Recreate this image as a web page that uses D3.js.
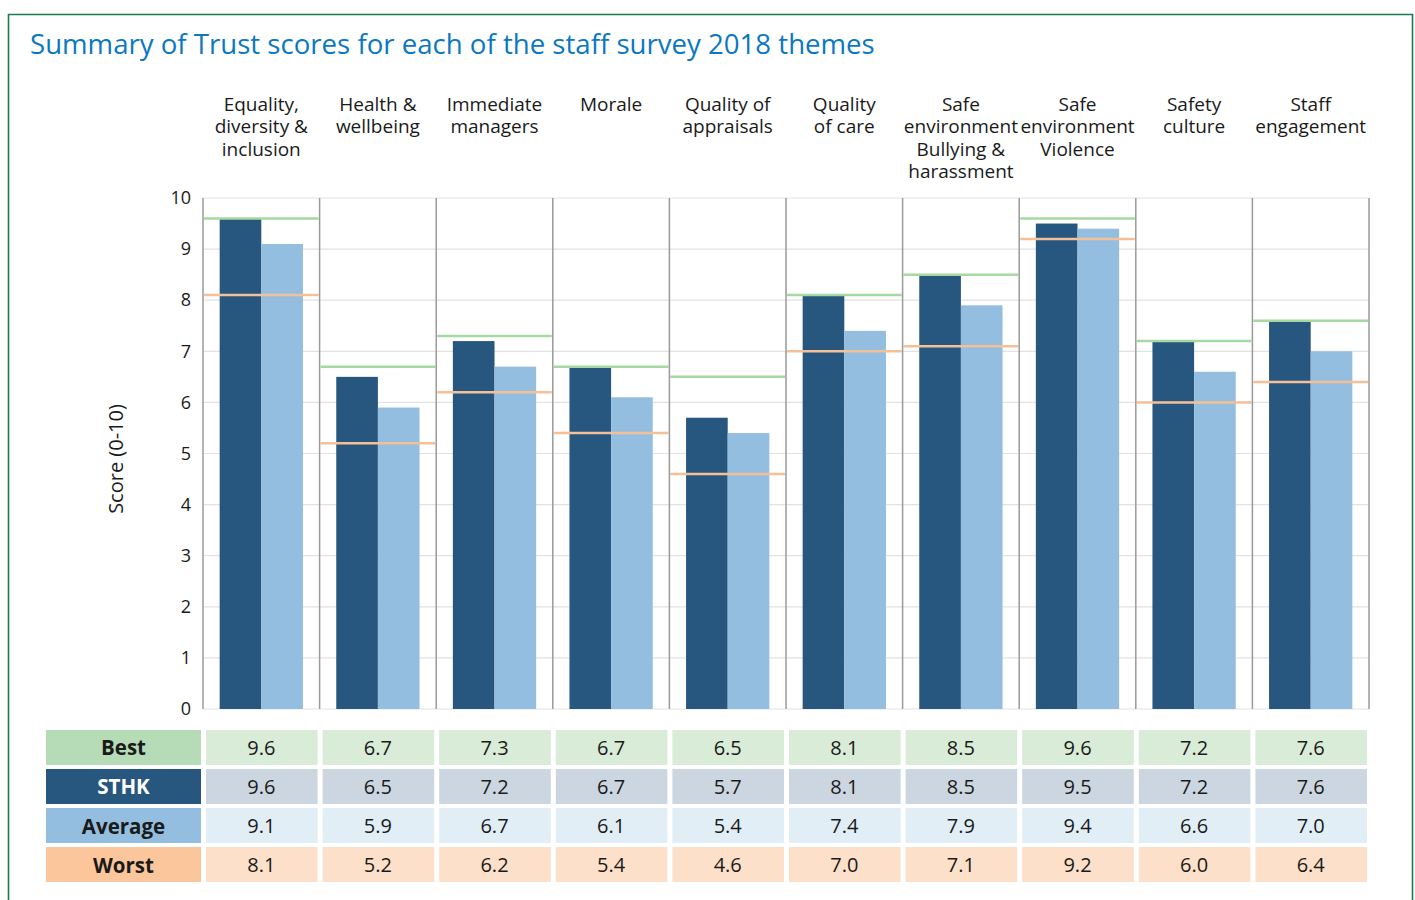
<!DOCTYPE html>
<html>
<head>
<meta charset="utf-8">
<script src="https://cdn.jsdelivr.net/npm/d3@7"></script>
<style>
  html, body { margin: 0; padding: 0; background: #fff; }
  svg { display: block; font-family: "Open Sans", "Noto Sans", sans-serif; }
</style>
</head>
<body>
<svg id="chart" width="1415" height="900"></svg>
<script>
const categories = [
  ["Equality,", "diversity &", "inclusion"],
  ["Health &", "wellbeing"],
  ["Immediate", "managers"],
  ["Morale"],
  ["Quality of", "appraisals"],
  ["Quality", "of care"],
  ["Safe", "environment", "Bullying &", "harassment"],
  ["Safe", "environment", "Violence"],
  ["Safety", "culture"],
  ["Staff", "engagement"]
];
const best    = [9.6, 6.7, 7.3, 6.7, 6.5, 8.1, 8.5, 9.6, 7.2, 7.6];
const sthk    = [9.6, 6.5, 7.2, 6.7, 5.7, 8.1, 8.5, 9.5, 7.2, 7.6];
const average = [9.1, 5.9, 6.7, 6.1, 5.4, 7.4, 7.9, 9.4, 6.6, 7.0];
const worst   = [8.1, 5.2, 6.2, 5.4, 4.6, 7.0, 7.1, 9.2, 6.0, 6.4];
const yTicks  = [0, 1, 2, 3, 4, 5, 6, 7, 8, 9, 10];
const title = "Summary of Trust scores for each of the staff survey 2018 themes";
const yTitle = "Score (0-10)";
const rowLabels = ["Best", "STHK", "Average", "Worst"];

(function () {
const svg = d3.select("#chart");
const idx = d3.range(categories.length);

// frame
svg.append("path")
  .attr("d", "M8.5,900 V14.5 H1412.5 V900")
  .attr("fill", "none").attr("stroke", "#1b7a50").attr("stroke-width", 1.6);

// title
svg.append("text").attr("x", 30).attr("y", 47)
  .attr("dominant-baseline", "middle")
  .attr("font-size", 27.6).attr("fill", "#0a78c2")
  .text(title);

const pLeft = 203, pRight = 1369, pTop = 198, pBottom = 709;
const x = d3.scaleBand().domain(idx).range([pLeft, pRight]).padding(0);
const y = d3.scaleLinear().domain([0, 10]).range([pBottom, pTop]);
const x1 = d3.scaleBand().domain(["STHK", "Average"]).range([0, x.bandwidth()])
  .paddingInner(0).paddingOuter(0.4);
const colors = { STHK: "#27567f", Average: "#93bee0" };

// gridlines
svg.append("g").selectAll("line").data(yTicks).join("line")
  .attr("x1", pLeft).attr("x2", pRight)
  .attr("y1", d => y(d)).attr("y2", d => y(d))
  .attr("stroke", "#e2e2e2").attr("stroke-width", 1.2);

// bars
const g = svg.append("g");
idx.forEach(i => {
  const vals = { STHK: sthk[i], Average: average[i] };
  g.selectAll(null).data(["STHK", "Average"]).enter().append("rect")
    .attr("x", s => x(i) + x1(s))
    .attr("width", x1.bandwidth())
    .attr("y", s => y(vals[s]))
    .attr("height", s => y(0) - y(vals[s]))
    .attr("fill", s => colors[s]);
});

// best / worst lines
svg.append("g").selectAll("line").data(idx).join("line")
  .attr("x1", i => x(i) + 1).attr("x2", i => x(i) + x.bandwidth() - 1)
  .attr("y1", i => y(best[i])).attr("y2", i => y(best[i]))
  .attr("stroke", "#a6d8a2").attr("stroke-width", 2.5);
svg.append("g").selectAll("line").data(idx).join("line")
  .attr("x1", i => x(i) + 1).attr("x2", i => x(i) + x.bandwidth() - 1)
  .attr("y1", i => y(worst[i])).attr("y2", i => y(worst[i]))
  .attr("stroke", "#f6c096").attr("stroke-width", 2.5);

// vertical dividers
svg.append("g").selectAll("line").data(d3.range(categories.length + 1)).join("line")
  .attr("x1", i => pLeft + i * x.step()).attr("x2", i => pLeft + i * x.step())
  .attr("y1", pTop).attr("y2", pBottom)
  .attr("stroke", "#9a9a9a").attr("stroke-width", 1.5);

// y axis
const yAxis = d3.axisLeft(y).tickValues(yTicks).tickSize(0).tickPadding(12).tickFormat(d3.format("d"));
const ya = svg.append("g").attr("transform", `translate(${pLeft},0)`).call(yAxis);
ya.select(".domain").remove();
ya.selectAll("text").attr("font-size", 18).attr("fill", "#1a1a1a")
  .attr("font-family", "'Open Sans', sans-serif");

svg.append("text")
  .attr("transform", `translate(118,459) rotate(-90)`)
  .attr("text-anchor", "middle").attr("dominant-baseline", "middle")
  .attr("font-size", 20).attr("fill", "#1a1a1a").text(yTitle);

// category headers
const hdr = svg.append("g");
idx.forEach(i => {
  const cx = x(i) + x.bandwidth() / 2;
  categories[i].forEach((line, k) => {
    hdr.append("text")
      .attr("x", cx).attr("y", 111 + k * 22.3)
      .attr("text-anchor", "middle").attr("font-size", 19).attr("fill", "#1a1a1a")
      .text(line);
  });
});

// table
const rows = [
  { label: "Best",    vals: best,    lab: "#b5dcb6", cell: "#d8ecd8", text: "#1a1a1a" },
  { label: "STHK",    vals: sthk,    lab: "#27567f", cell: "#cbd6e0", text: "#ffffff" },
  { label: "Average", vals: average, lab: "#93bee0", cell: "#e2eef6", text: "#1a1a1a" },
  { label: "Worst",   vals: worst,   lab: "#fcc69c", cell: "#fde0c9", text: "#1a1a1a" }
];
const rowY = d3.scaleBand().domain(rowLabels).range([730, 882]).paddingInner(0.103);
const tbl = svg.append("g");
rows.forEach(r => {
  const ry = rowY(r.label), rh = rowY.bandwidth();
  tbl.append("rect").attr("x", 46).attr("y", ry).attr("width", 155).attr("height", rh).attr("fill", r.lab);
  tbl.append("text").attr("x", 46 + 155 / 2).attr("y", ry + rh / 2)
    .attr("text-anchor", "middle").attr("dominant-baseline", "central")
    .attr("font-size", 20.5).attr("font-weight", "bold").attr("fill", r.text).text(r.label);
  tbl.selectAll(null).data(idx).enter().append("rect")
    .attr("x", i => x(i) + 3).attr("y", ry)
    .attr("width", x.bandwidth() - 5).attr("height", rh).attr("fill", r.cell);
  tbl.selectAll(null).data(idx).enter().append("text")
    .attr("x", i => x(i) + x.bandwidth() / 2).attr("y", ry + rh / 2)
    .attr("text-anchor", "middle").attr("dominant-baseline", "central")
    .attr("font-size", 20).attr("fill", "#1a1a1a")
    .text(i => d3.format(".1f")(r.vals[i]));
});
})();
</script>
</body>
</html>
